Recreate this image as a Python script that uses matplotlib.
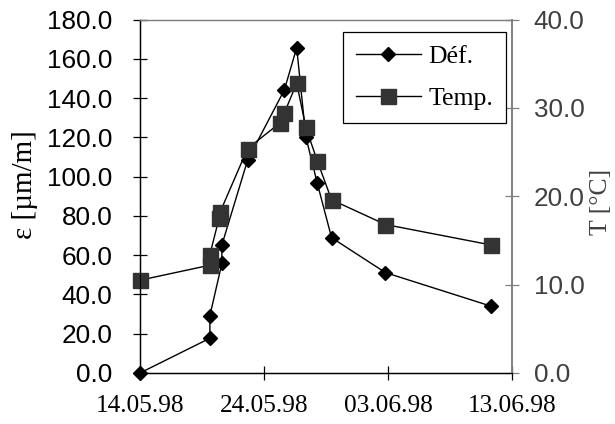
import matplotlib
matplotlib.use('Agg')
import matplotlib.pyplot as plt
import matplotlib.dates as mdates
import pandas as pd

# Déf. (strain, left axis)
def_dates = ['1998-05-14 00:00', '1998-05-19 15:20', '1998-05-19 15:20',
             '1998-05-20 14:30', '1998-05-20 14:30', '1998-05-22 16:20',
             '1998-05-25 15:20', '1998-05-26 15:20', '1998-05-27 09:00',
             '1998-05-28 07:10', '1998-05-29 10:50', '1998-06-02 19:10',
             '1998-06-11 06:30']
def_values = [0.0, 17.7, 29.2, 55.8, 65.2, 108.4, 144.1, 165.6, 120.3,
              96.6, 68.9, 51.1, 34.1]

# Temp. (temperature, right axis)
temp_dates = ['1998-05-14 00:00', '1998-05-19 15:20', '1998-05-19 15:20',
              '1998-05-20 09:00', '1998-05-20 11:00', '1998-05-22 16:20',
              '1998-05-25 07:00', '1998-05-25 15:20', '1998-05-26 15:20',
              '1998-05-27 09:00', '1998-05-28 07:10', '1998-05-29 10:50',
              '1998-06-02 19:10', '1998-06-11 06:30']
temp_values = [10.5, 12.2, 13.4, 17.5, 18.2, 25.4, 28.3, 29.4, 32.8, 27.8,
               24.0, 19.6, 16.8, 14.5]

x_ticks = ['1998-05-14', '1998-05-24', '1998-06-03', '1998-06-13']

SANS = 'Liberation Sans'
SERIF = 'Liberation Serif'
GRAY_TXT = '#404040'
GRAY_LN = '#808080'

fig = plt.figure(figsize=(6.15, 4.24), dpi=100)
ax = fig.add_axes([0.2276, 0.1203, 0.6049, 0.8337])
ax2 = ax.twinx()

d1 = pd.to_datetime(def_dates)
d2 = pd.to_datetime(temp_dates)
l1, = ax.plot(d1, def_values, color='black', lw=1.0, marker='D',
              markersize=7.2, label='Déf.')
l2, = ax2.plot(d2, temp_values, color='black', lw=1.0, marker='s',
               markersize=10.8, markerfacecolor='#333333',
               markeredgecolor='#333333', label='Temp.')
for line in (l1, l2):
    line.set_clip_on(False)

ticks = pd.to_datetime(x_ticks)
ax.set_xlim(ticks[0], ticks[-1])
ax.set_xticks(ticks)
ax.xaxis.set_major_formatter(mdates.DateFormatter('%d.%m.%y'))

ax.set_ylim(0, 180)
ax.set_yticks(range(0, 181, 20))
ax.set_yticklabels(['%.1f' % v for v in range(0, 181, 20)])
ax2.set_ylim(0, 40)
ax2.set_yticks(range(0, 41, 10))
ax2.set_yticklabels(['%.1f' % v for v in range(0, 41, 10)])

ax.tick_params(axis='y', direction='inout', length=10, width=0.9, pad=15,
               labelsize=18.8)
ax.tick_params(axis='x', direction='inout', length=10, width=0.9, pad=11,
               labelsize=18.3)
ax2.tick_params(axis='y', direction='inout', length=10, width=0.9, pad=10.5,
                labelsize=18.8, colors=GRAY_TXT, color=GRAY_LN)
for lab in ax.get_yticklabels() + ax2.get_yticklabels():
    lab.set_family(SANS)
for lab in ax.get_xticklabels():
    lab.set_family(SERIF)

ax.spines['left'].set_linewidth(1.0)
ax.spines['bottom'].set_linewidth(1.0)
for a in (ax, ax2):
    a.spines['top'].set_color(GRAY_LN)
    a.spines['right'].set_color(GRAY_LN)
    a.spines['top'].set_linewidth(0.9)
    a.spines['right'].set_linewidth(1.2)

fig.text(25 / 615, 1 - 185 / 424, 'ε [µm/m]', family=SERIF, fontsize=21,
         rotation=90, ha='center', va='center')
fig.text(601 / 615, 1 - 202 / 424, 'T [°C]', family=SERIF, fontsize=18.5,
         rotation=90, ha='center', va='center', color=GRAY_TXT)

leg = ax2.legend(handles=[l1, l2], loc='upper right',
                 bbox_to_anchor=(506 / 615, 1 - 32 / 424),
                 bbox_transform=fig.transFigure, borderaxespad=0,
                 prop={'family': SERIF, 'size': 18.5}, fancybox=False,
                 edgecolor='black', framealpha=1, handlelength=2.5,
                 borderpad=0.5, labelspacing=0.75, handletextpad=0.3)
leg.get_frame().set_linewidth(0.9)

fig.savefig('out.png', dpi=100)
